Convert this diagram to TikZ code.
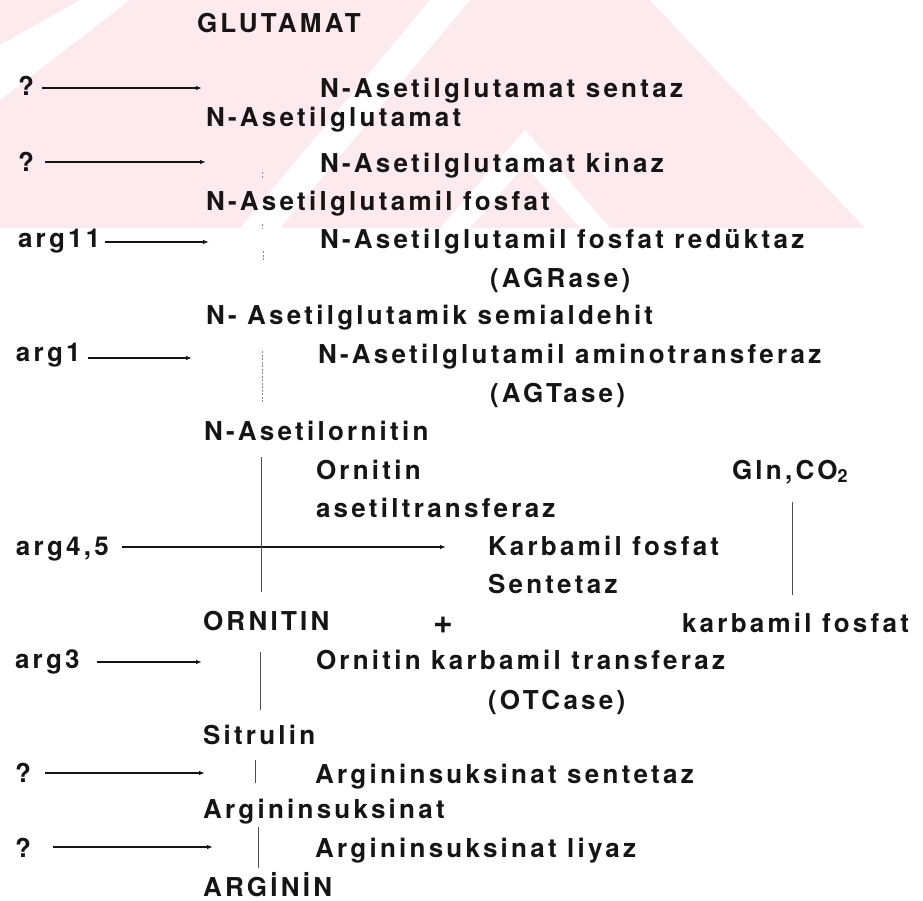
\documentclass[tikz,border=0pt]{standalone}
\usepackage{fontspec}
\setmainfont{TeX Gyre Heros}[LetterSpace=12.5]
\usetikzlibrary{arrows.meta}
\definecolor{wmpink}{RGB}{252,234,238}
\definecolor{ink}{RGB}{22,20,20}
\begin{document}
\begin{tikzpicture}[x=1pt,y=-1pt,
  lbl/.style={anchor=base west,inner sep=0pt,outer sep=0pt,text=ink,font=\fontsize{26}{30}\selectfont\bfseries},
  arr/.style={line width=1.3pt,draw=ink,-{Latex[length=6pt,width=4.5pt]}},
  vline/.style={line width=1pt,draw=ink!75},
  faint/.style={line width=0.8pt,draw=ink!50,dash pattern=on 2pt off 1.5pt}]
\useasboundingbox (0,0) rectangle (923,900);
% watermark
\fill[wmpink] (0,0) rectangle (865,228);
\fill[white] (0,45) -- (80,0) -- (130,0) -- (0,100) -- cycle;
\fill[white] (240,228) -- (430,0) -- (470,0) -- (280,228) -- cycle;
\fill[white] (440,228) -- (525,130) -- (610,228) -- (580,228) -- (525,165) -- (470,228) -- cycle;
\fill[white] (650,0) -- (923,0) -- (923,228) -- (865,228) -- cycle;
% labels
\node[lbl] (glu) at (197,32) {GLUTAMAT};
\node[lbl] (q1) at (18,95) {?};
\node[lbl] (e1) at (320,97) {N-Asetilglutamat sentaz};
\node[lbl] (m1) at (206,126) {N-Asetilglutamat};
\node[lbl] (q2) at (18,171) {?};
\node[lbl] (e2) at (320,172) {N-Asetilglutamat kinaz};
\node[lbl] (m2) at (206,210) {N-Asetilglutamil fosfat};
\node[lbl] (g11) at (18,247) {arg11};
\node[lbl] (e3) at (320,248) {N-Asetilglutamil fosfat redüktaz};
\node[lbl] (e3b) at (490,287) {(AGRase)};
\node[lbl] (m3) at (206,324) {N- Asetilglutamik semialdehit};
\node[lbl] (g1) at (16,361) {arg1};
\node[lbl] (e4) at (318,363) {N-Asetilglutamil aminotransferaz};
\node[lbl] (e4b) at (490,402) {(AGTase)};
\node[lbl] (m4) at (204,440) {N-Asetilornitin};
\node[lbl] (e5a) at (316,479) {Ornitin};
\node[lbl] (e5b) at (316,517) {asetiltransferaz};
\node[lbl] (gln) at (732,479) {Gln,CO\raisebox{-3pt}{\fontsize{18}{20}\selectfont 2}};
\node[lbl] (g45) at (16,555) {arg4,5};
\node[lbl] (e6a) at (488,555) {Karbamil fosfat};
\node[lbl] (e6b) at (488,593) {Sentetaz};
\node[lbl] (orn) at (203,630) {ORNITIN};
\node[lbl,anchor=center,font=\fontsize{34}{36}\selectfont\bfseries] (plus) at (443.5,625) {+};
\node[lbl] (kf) at (682,632) {karbamil fosfat};
\node[lbl] (g3) at (15,668) {arg3};
\node[lbl] (e7) at (316,669) {Ornitin karbamil transferaz};
\node[lbl] (e7b) at (488,709) {(OTCase)};
\node[lbl] (sit) at (203,744) {Sitrulin};
\node[lbl] (q3) at (15,782) {?};
\node[lbl] (e8) at (315,783) {Argininsuksinat sentetaz};
\node[lbl] (as) at (203,818) {Argininsuksinat};
\node[lbl] (q4) at (15,857) {?};
\node[lbl] (e9) at (315,857) {Argininsuksinat liyaz};
\node[lbl] (arg) at (203,896) {ARGİNİN};
% arrow end points
\coordinate (a1s) at (42,88);   \coordinate (a1e) at (202,88);
\coordinate (a2s) at (45,162);  \coordinate (a2e) at (206,162);
\coordinate (a3s) at (105,242); \coordinate (a3e) at (209,242);
\coordinate (a4s) at (88,358);  \coordinate (a4e) at (192,358);
\coordinate (a5s) at (122,547); \coordinate (a5e) at (446,547);
\coordinate (a6s) at (97,662);  \coordinate (a6e) at (202,662);
\coordinate (a7s) at (45,773);  \coordinate (a7e) at (205,773);
\coordinate (a8s) at (53,847);  \coordinate (a8e) at (213,847);
\draw[arr] (a1s) -- (a1e);
\draw[arr] (a2s) -- (a2e);
\draw[arr] (a3s) -- (a3e);
\draw[arr] (a4s) -- (a4e);
\draw[arr] (a5s) -- (a5e);
\draw[arr] (a6s) -- (a6e);
\draw[arr] (a7s) -- (a7e);
\draw[arr] (a8s) -- (a8e);
% vertical reaction lines
\coordinate (f1s) at (262,172); \coordinate (f1e) at (262,179);
\coordinate (f2s) at (262,224); \coordinate (f2e) at (262,228);
\coordinate (f3s) at (263,251); \coordinate (f3e) at (263,260);
\coordinate (f4s) at (262,351); \coordinate (f4e) at (262,402);
\draw[faint] (f1s) -- (f1e);
\draw[faint] (f2s) -- (f2e);
\draw[faint] (f3s) -- (f3e);
\draw[faint] (f4s) -- (f4e);
\coordinate (v1s) at (261,457); \coordinate (v1e) at (261,592);
\coordinate (v2s) at (260,652); \coordinate (v2e) at (260,710);
\coordinate (v3s) at (255,760); \coordinate (v3e) at (255,783);
\coordinate (v4s) at (258,827); \coordinate (v4e) at (258,868);
\coordinate (v5s) at (792,502); \coordinate (v5e) at (792,595);
\draw[vline] (v1s) -- (v1e);
\draw[vline] (v2s) -- (v2e);
\draw[vline] (v3s) -- (v3e);
\draw[vline] (v4s) -- (v4e);
\draw[vline] (v5s) -- (v5e);
\end{tikzpicture}
\end{document}
